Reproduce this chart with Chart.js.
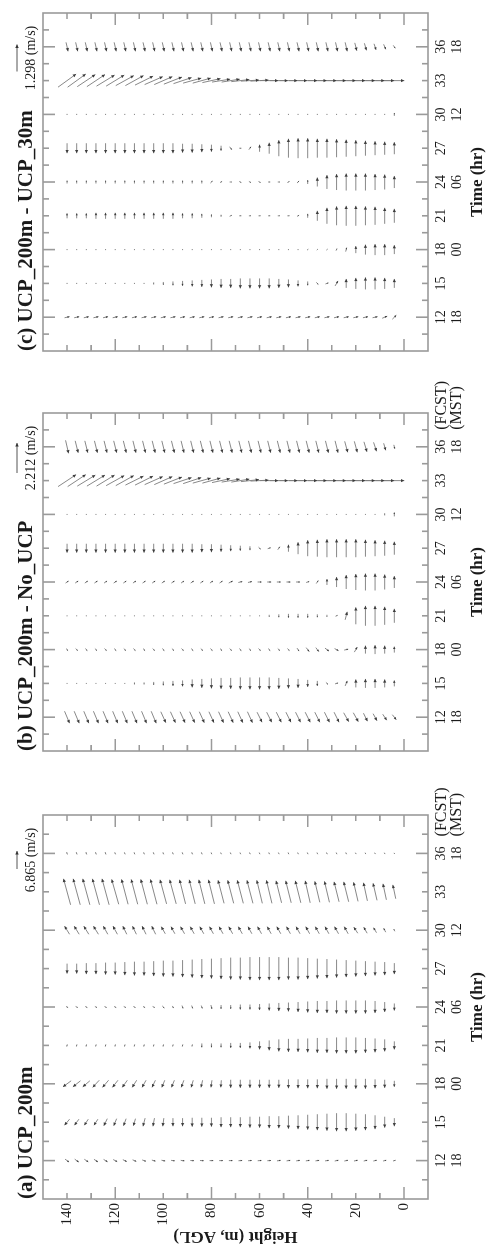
<!DOCTYPE html>
<html>
<head>
<meta charset="utf-8">
<script src="https://cdn.jsdelivr.net/npm/chart.js@4.4.1/dist/chart.umd.min.js"></script>
<style>
  html, body { margin: 0; padding: 0; background: #fff; overflow: hidden; }
  #fig { position: absolute; left: 0; top: 0; width: 1247px; height: 492px;
         transform-origin: 0 0; transform: translateY(1247px) rotate(-90deg); background: #fff; }
  #fig canvas { position: absolute; left: 0; top: 0; }
</style>
</head>
<body>
<div id="fig">
  <canvas id="chartA" width="1247" height="492"></canvas>
  <canvas id="chartB" width="1247" height="492"></canvas>
  <canvas id="chartC" width="1247" height="492"></canvas>
</div>
<script>
// ---- axes ----
const times = [12, 15, 18, 21, 24, 27, 30, 33, 36];
const mstLabels = ['18', '', '00', '', '06', '', '12', '', '18'];
const heights = [4, 8, 12, 16, 20, 24, 28, 32, 36, 40, 44, 48, 52, 56, 60, 64, 68, 72, 76, 80,
                 84, 88, 92, 96, 100, 104, 108, 112, 116, 120, 124, 128, 132, 136, 140];
const heightLabels = [0, 20, 40, 60, 80, 100, 120, 140];
const heightMarks = [0, 10, 20, 30, 40, 50, 60, 70, 80, 90, 100, 110, 120, 130, 140];
const heightMajor = [0, 40, 80, 120];
const timeMarks = [10.5, 12, 13.5, 15, 16.5, 18, 19.5, 21, 22.5, 24, 25.5, 27, 28.5, 30, 31.5, 33, 34.5, 36, 37.5];
const timeMajor = [12, 18, 24, 30, 36];

const titles = ['(a) UCP_200m', '(b) UCP_200m - No_UCP', '(c) UCP_200m - UCP_30m'];
const refSpeeds = [6.865, 2.212, 1.298];

// ---- (a) UCP_200m : u, v (m/s), heights 4..140 m ----
const uA12 = [0.3,0.3,0.3,0.3,0.3,0.3,0.3,0.2,0.2,0.2,0.2,0.2,0.2,0.1,0.1,0.1,0.1,0.0,0.0,0.0,-0.1,-0.1,-0.2,-0.2,-0.3,-0.4,-0.5,-0.6,-0.7,-0.8,-0.9,-1.0,-1.0,-1.1,-1.1];
const vA12 = [-1.0,-1.2,-1.3,-1.3,-1.4,-1.4,-1.4,-1.4,-1.4,-1.4,-1.4,-1.4,-1.4,-1.4,-1.4,-1.4,-1.4,-1.4,-1.4,-1.4,-1.4,-1.4,-1.4,-1.4,-1.4,-1.4,-1.4,-1.4,-1.5,-1.5,-1.5,-1.5,-1.5,-1.5,-1.5];
const uA15 = [-3.1,-4.2,-5.3,-6.1,-6.5,-6.9,-6.9,-6.5,-6.1,-5.7,-5.3,-5.0,-4.6,-4.6,-4.2,-4.2,-3.8,-3.8,-3.8,-3.4,-3.4,-3.4,-3.1,-3.1,-3.1,-3.1,-3.1,-2.7,-2.7,-2.7,-2.7,-2.3,-2.3,-2.3,-2.3];
const vA15 = [0,0,0,0,0,0,0,0,0,0,0,0,0,0,0,0,0,0,0,0,0,0,0,0,0.4,0.6,0.8,0.8,1.0,1.1,1.3,1.5,1.5,1.7,1.9];
const uA18 = [-2.3,-3.1,-3.4,-3.8,-3.8,-3.8,-3.8,-3.8,-3.4,-3.4,-3.4,-3.4,-3.1,-3.1,-3.1,-3.1,-3.1,-3.1,-2.7,-2.7,-2.7,-2.7,-2.7,-2.7,-2.7,-2.7,-2.7,-2.7,-2.7,-2.7,-2.7,-2.7,-2.3,-2.3,-2.3];
const vA18 = [0,0,0,0,0,0,0,0,0,0,0,0,0,0,0,0,0,0,0.2,0.4,0.6,0.8,1.0,1.1,1.1,1.3,1.5,1.7,1.9,2.1,2.3,2.5,2.7,2.9,3.1];
const uA21 = [-3.1,-4.6,-5.3,-5.7,-6.1,-6.1,-6.1,-5.7,-5.7,-5.3,-5.0,-5.0,-4.6,-3.8,-3.1,-2.3,-1.9,-1.9,-1.5,-1.5,-1.5,-0.8,-0.8,-0.8,-0.8,-0.8,-0.8,-0.8,-0.8,-0.8,-0.8,-0.8,-0.8,-0.8,-0.8];
const vA21 = [0,0,0,0,0,0,0,0,0,0,0,0,0,0,0,0,0,0,0,0,0,0.2,0.2,0.2,0.2,0.2,0.2,0.2,0.2,0.2,0.2,0.2,0.2,0.2,0.2];
const uA24 = [-2.7,-3.8,-4.6,-5.0,-5.0,-5.0,-5.0,-4.6,-4.6,-4.2,-3.8,-3.4,-3.1,-2.7,-2.3,-1.9,-1.9,-1.5,-1.5,-1.5,-1.1,-1.1,-1.1,-0.8,-0.8,-0.4,-0.4,-0.4,-0.4,-0.4,-0.4,-0.4,-0.4,-0.4,-0.4];
const vA24 = [0,0,0,0,0,0,0,0,0,0,0,0,0,0,0,0,0,0,0,-0.4,-0.4,-0.4,-0.4,-0.4,-0.8,-0.8,-0.8,-0.8,-0.8,-0.8,-0.8,-0.8,-0.8,-0.8,-0.8];
const uA27 = [-4.2,-5.0,-5.3,-5.7,-6.1,-6.5,-6.9,-7.3,-7.6,-8.0,-8.4,-8.4,-8.8,-8.8,-8.8,-8.8,-8.4,-8.4,-8.0,-7.6,-7.3,-6.9,-6.5,-6.1,-6.1,-5.7,-5.3,-5.3,-5.0,-4.6,-4.6,-4.2,-4.2,-3.8,-3.8];
const vA27 = [0,0,0,0,0,0,0,0,0,0,0,0,0,0,0,0,0,0,0,0,0,0,0,0,0,0,0,0,0,0,0,0,0,0,0];
const uA30 = [0.8,1.5,1.9,2.3,2.3,2.7,2.7,2.7,2.7,2.7,2.7,2.7,2.7,2.7,2.7,2.7,2.7,2.7,2.7,2.7,2.7,2.7,2.7,2.7,2.7,3.1,3.1,3.1,3.1,3.1,3.1,3.1,3.1,3.1,3.1];
const vA30 = [0.4,0.8,1.1,1.3,1.5,1.5,1.5,1.5,1.5,1.5,1.5,1.5,1.5,1.5,1.5,1.5,1.5,1.5,1.5,1.5,1.5,1.5,1.5,1.5,1.5,1.5,1.5,1.5,1.5,1.7,1.7,1.9,1.9,1.9,1.9];
const uA33 = [5.3,6.1,6.5,6.9,7.3,7.6,7.6,8.0,8.0,8.4,8.4,8.4,8.4,8.8,8.8,8.8,8.8,8.8,8.8,9.2,9.2,9.2,9.2,9.2,9.2,9.5,9.5,9.5,9.5,9.5,9.9,9.9,9.9,9.9,9.9];
const vA33 = [1.1,1.3,1.5,1.5,1.7,1.9,1.9,1.9,1.9,1.9,2.1,2.1,2.1,2.1,2.1,2.3,2.3,2.3,2.3,2.3,2.3,2.3,2.3,2.5,2.5,2.5,2.5,2.5,2.5,2.7,2.7,2.7,2.7,2.7,2.7];
const uA36 = [0.4,0.5,0.5,0.5,0.5,0.6,0.6,0.6,0.6,0.6,0.6,0.6,0.6,0.6,0.6,0.6,0.6,0.6,0.6,0.6,0.7,0.7,0.7,0.7,0.7,0.7,0.7,0.7,0.7,0.7,0.8,0.8,0.8,0.8,0.8];
const vA36 = [0.3,0.3,0.3,0.3,0.3,0.3,0.3,0.3,0.3,0.3,0.3,0.3,0.3,0.3,0.3,0.3,0.3,0.3,0.3,0.3,0.3,0.3,0.3,0.3,0.3,0.3,0.3,0.3,0.3,0.3,0.3,0.3,0.3,0.3,0.3];

// ---- (b) UCP_200m - No_UCP ----
const uB12 = [-0.37,-0.44,-0.52,-0.59,-0.66,-0.66,-0.74,-0.74,-0.74,-0.74,-0.74,-0.74,-0.74,-0.74,-0.74,-0.81,-0.81,-0.81,-0.81,-0.81,-0.81,-0.81,-0.81,-0.81,-0.81,-0.88,-0.88,-0.88,-0.88,-0.88,-0.88,-0.88,-0.88,-0.88,-0.88];
const vB12 = [-0.29,-0.29,-0.29,-0.29,-0.37,-0.37,-0.37,-0.37,-0.37,-0.37,-0.37,-0.37,-0.37,-0.37,-0.37,-0.37,-0.37,-0.37,-0.37,-0.37,-0.37,-0.37,-0.37,-0.37,-0.37,-0.37,-0.37,-0.37,-0.37,-0.37,-0.37,-0.37,-0.37,-0.37,-0.37];
const uB15 = [0.44,0.59,0.66,0.66,0.59,0.37,0.07,-0.15,-0.37,-0.52,-0.66,-0.74,-0.81,-0.88,-0.88,-0.88,-0.88,-0.81,-0.81,-0.74,-0.66,-0.59,-0.44,-0.37,-0.29,-0.22,-0.15,-0.15,-0.07,-0.07,-0.07,-0.07,-0.07,-0.07,-0.07];
const vB15 = [0,0,0,0,0,-0.15,-0.22,-0.15,0,0,0,0,0,0,0,0,0,0,0,0,0,0,0,0,0,0,0,0,0,0,0,0,0,0,0];
const uB18 = [0.44,0.59,0.66,0.59,0.37,0.07,-0.15,-0.22,-0.29,-0.29,-0.22,-0.15,-0.15,-0.15,-0.15,-0.15,-0.15,-0.15,-0.15,-0.15,-0.15,-0.15,-0.15,-0.15,-0.15,-0.15,-0.15,-0.15,-0.15,-0.15,-0.15,-0.15,-0.15,-0.15,-0.15];
const vB18 = [0,0,0,0,-0.22,-0.29,-0.29,-0.29,-0.22,-0.22,-0.15,-0.15,-0.15,-0.15,-0.15,-0.15,-0.15,-0.15,-0.15,-0.15,-0.15,-0.15,-0.15,-0.15,-0.15,-0.15,-0.15,-0.15,-0.15,-0.15,-0.15,-0.15,-0.15,-0.15,-0.15];
const uB21 = [1.03,1.33,1.47,1.47,1.25,0.59,0.07,-0.15,-0.22,-0.29,-0.29,-0.29,-0.22,-0.15,-0.07,-0.07,-0.07,-0.07,-0.07,-0.07,-0.07,-0.07,-0.07,-0.07,-0.07,-0.07,-0.07,-0.07,-0.07,-0.07,-0.07,-0.07,-0.07,-0.07,-0.07];
const vB21 = [0,0,0,0,0,-0.15,-0.15,0,0,0,0,0,0,0,0,0,0,0,0,0,0,0,0,0,0,0,0,0,0,0,0,0,0,0,0];
const uB24 = [0.88,1.11,1.25,1.25,1.18,1.03,0.74,0.44,0.22,0.07,0,0,0,0,0,0.07,0.07,0.15,0.15,0.15,0.15,0.15,0.15,0.15,0.15,0.15,0.15,0.15,0.15,0.15,0.15,0.15,0.15,0.15,0.15];
const vB24 = [0,0,0,0,0,0,0,0,-0.15,-0.22,-0.29,-0.29,-0.29,-0.29,-0.29,-0.29,-0.29,-0.29,-0.22,-0.22,-0.22,-0.22,-0.22,-0.22,-0.22,-0.22,-0.22,-0.22,-0.22,-0.22,-0.22,-0.22,-0.22,-0.22,-0.22];
const uB27 = [0.96,1.11,1.18,1.25,1.33,1.33,1.33,1.33,1.25,1.18,0.88,0.52,0.22,0.07,-0.15,-0.29,-0.37,-0.44,-0.52,-0.59,-0.59,-0.66,-0.66,-0.66,-0.66,-0.66,-0.66,-0.66,-0.66,-0.66,-0.66,-0.66,-0.66,-0.66,-0.66];
const vB27 = [0,0,0,0,0,0,0,0,0,0,0,0,-0.15,-0.22,-0.15,0,0,0,0,0,0,0,0,0,0,0,0,0,0,0,0,0,0,0,0];
const uB30 = [0.29,0.15,0.07,0.07,0.07,0.07,0.07,0.07,0.07,0.07,0.07,0.07,0.07,0.07,0.07,0.07,0.07,0.07,0.07,0.07,0.07,0.07,0.07,0.07,0.07,0.07,0.07,0.07,0.07,0.07,0.07,0.07,0.07,0.07,0.07];
const vB30 = [0,0,0,0,0,0,0,0,0,0,0,0,0,0,0,0,0,0,0,0,0,0,0,0,0,0,0,0,0,0,0,0,0,0,0];
const uB33 = [0,0,0,0,0,0,0,0,0,0,0,0,0,0,0.07,0.15,0.22,0.22,0.29,0.37,0.37,0.44,0.44,0.52,0.59,0.59,0.66,0.66,0.74,0.74,0.81,0.81,0.81,0.88,0.88];
const vB33 = [-1.47,-1.40,-1.40,-1.40,-1.40,-1.40,-1.40,-1.40,-1.40,-1.40,-1.33,-1.33,-1.33,-1.33,-1.33,-1.33,-1.33,-1.33,-1.33,-1.33,-1.33,-1.33,-1.33,-1.33,-1.33,-1.33,-1.33,-1.33,-1.33,-1.33,-1.33,-1.33,-1.33,-1.33,-1.33];
const uB36 = [-0.29,-0.52,-0.66,-0.74,-0.81,-0.81,-0.88,-0.88,-0.88,-0.88,-0.88,-0.88,-0.88,-0.88,-0.88,-0.88,-0.88,-0.88,-0.88,-0.88,-0.88,-0.88,-0.88,-0.88,-0.88,-0.88,-0.88,-0.88,-0.88,-0.88,-0.88,-0.88,-0.88,-0.88,-0.96];
const vB36 = [-0.07,-0.15,-0.22,-0.22,-0.22,-0.22,-0.22,-0.22,-0.22,-0.22,-0.22,-0.22,-0.22,-0.22,-0.22,-0.22,-0.22,-0.22,-0.22,-0.22,-0.22,-0.22,-0.22,-0.22,-0.22,-0.22,-0.22,-0.22,-0.22,-0.22,-0.22,-0.22,-0.22,-0.22,-0.22];

// ---- (c) UCP_200m - UCP_30m ----
const uC12 = [0.19,0.10,0.05,0.05,0.05,0.05,0.05,0.05,0.05,0.05,0.05,0.05,0.05,0.05,0.05,0.05,0.05,0.05,0.05,0.05,0.05,0.05,0.05,0.05,0.05,0.05,0.05,0.05,0.05,0.05,0.05,0.05,0.05,0.05,0.05];
const vC12 = [-0.19,-0.24,-0.24,-0.24,-0.24,-0.24,-0.24,-0.24,-0.24,-0.24,-0.24,-0.24,-0.24,-0.24,-0.24,-0.24,-0.24,-0.24,-0.24,-0.24,-0.24,-0.24,-0.24,-0.24,-0.24,-0.24,-0.24,-0.24,-0.24,-0.24,-0.24,-0.24,-0.24,-0.24,-0.24];
const uC15 = [0.43,0.53,0.58,0.58,0.53,0.43,0.24,0.05,-0.10,-0.19,-0.29,-0.38,-0.43,-0.48,-0.48,-0.48,-0.48,-0.43,-0.43,-0.38,-0.34,-0.29,-0.24,-0.19,-0.14,-0.10,-0.05,-0.05,-0.05,-0.05,-0.05,-0.05,-0.05,-0.05,-0.05];
const vC15 = [0,0,0,0,0,0,-0.14,-0.14,-0.10,0,0,0,0,0,0,0,0,0,0,0,0,0,0,0,0,0,0,0,0,0,0,0,0,0,0];
const uC18 = [0.43,0.53,0.53,0.48,0.34,0.19,0.10,0.05,0.05,0.05,0.05,0.05,0.05,0.05,0.05,0.05,0.05,0.05,0.05,0.05,0.05,0.05,0.05,0.05,0.05,0.05,0.05,0.05,0.05,0.05,0.05,0.05,0.05,0.05,0.05];
const vC18 = [0,0,0,0,0,-0.05,-0.05,-0.05,-0.05,-0.05,0,0,0,0,0,0,0,0,0,0,0,0,0,0,0,0,0,0,0,0,0,0,0,0,0];
const uC21 = [0.67,0.77,0.87,0.91,0.96,0.96,0.91,0.77,0.48,0.19,0.05,0,0,0,0,0,0,0.05,0.10,0.14,0.19,0.24,0.24,0.29,0.29,0.29,0.29,0.29,0.29,0.29,0.29,0.29,0.24,0.24,0.24];
const vC21 = [0,0,0,0,0,0,0,0,0,0,-0.10,-0.10,-0.10,-0.10,-0.10,-0.10,-0.10,-0.10,0,0,0,0,0,0,0,0,0,0,0,0,0,0,0,0,0];
const uC24 = [0.58,0.72,0.77,0.82,0.82,0.82,0.77,0.67,0.43,0.19,0.10,0.05,0,0,-0.05,-0.05,-0.05,0,0.05,0.10,0.14,0.14,0.14,0.14,0.14,0.14,0.14,0.14,0.14,0.14,0.14,0.14,0.14,0.14,0.14];
const vC24 = [0,0,0,0,0,0,0,0,0,0,-0.10,-0.10,-0.10,-0.10,-0.10,-0.10,-0.10,-0.10,-0.10,-0.10,0,0,0,0,0,0,0,0,0,0,0,0,0,0,0];
const uC27 = [0.58,0.63,0.67,0.72,0.77,0.82,0.87,0.91,0.91,0.96,0.96,0.91,0.77,0.53,0.34,0.14,0,-0.14,-0.24,-0.34,-0.38,-0.43,-0.43,-0.48,-0.48,-0.48,-0.48,-0.48,-0.48,-0.48,-0.48,-0.48,-0.48,-0.48,-0.48];
const vC27 = [0,0,0,0,0,0,0,0,0,0,0,0,0,0,0,-0.10,-0.10,-0.10,0,0,0,0,0,0,0,0,0,0,0,0,0,0,0,0,0];
const uC30 = [0.14,0.05,0.05,0.05,0.05,0.05,0.05,0.05,0.05,0.05,0.05,0.05,0.05,0.05,0.05,0.05,0.05,0.05,0.05,0.05,0.05,0.05,0.05,0.05,0.05,0.05,0.05,0.05,0.05,0.05,0.05,0.05,0.05,0.05,0.05];
const vC30 = [0,0,0,0,0,0,0,0,0,0,0,0,0,0,0,0,0,0,0,0,0,0,0,0,0,0,0,0,0,0,0,0,0,0,0];
const uC33 = [0,0,0,0,0,0,0,0,0,0,0,0,0,0,0.05,0.05,0.10,0.14,0.14,0.19,0.24,0.24,0.29,0.34,0.38,0.38,0.43,0.48,0.48,0.53,0.53,0.58,0.58,0.63,0.63];
const vC33 = [-0.96,-0.91,-0.91,-0.91,-0.91,-0.91,-0.91,-0.91,-0.91,-0.91,-0.87,-0.87,-0.87,-0.87,-0.87,-0.87,-0.87,-0.87,-0.87,-0.87,-0.87,-0.87,-0.87,-0.87,-0.87,-0.87,-0.87,-0.87,-0.87,-0.87,-0.87,-0.87,-0.87,-0.87,-0.87];
const uC36 = [-0.14,-0.24,-0.29,-0.34,-0.38,-0.43,-0.43,-0.43,-0.43,-0.43,-0.43,-0.43,-0.43,-0.43,-0.43,-0.43,-0.43,-0.43,-0.43,-0.43,-0.43,-0.43,-0.43,-0.43,-0.43,-0.43,-0.43,-0.43,-0.43,-0.43,-0.43,-0.43,-0.43,-0.43,-0.43];
const vC36 = [-0.10,-0.10,-0.10,-0.10,-0.10,-0.10,-0.10,-0.10,-0.10,-0.10,-0.10,-0.10,-0.10,-0.10,-0.10,-0.10,-0.10,-0.10,-0.10,-0.10,-0.10,-0.10,-0.10,-0.10,-0.10,-0.10,-0.10,-0.10,-0.10,-0.10,-0.10,-0.10,-0.10,-0.10,-0.10];

const FONT = '"Liberation Serif", "DejaVu Serif", serif';
const TEXT = '#1a1a1a';
const FRAME = '#9a9a9a';

// arrow centred on its grid point, like a quiver with pivot "middle"
function drawArrow(ctx, x, y, dx, dy, headMax) {
  const len = Math.hypot(dx, dy);
  if (len < 0.3) return;
  const x1 = x + dx / 2, y1 = y + dy / 2;
  ctx.beginPath();
  ctx.moveTo(x - dx / 2, y - dy / 2);
  ctx.lineTo(x1, y1);
  ctx.stroke();
  const hl = Math.min(headMax, len * 0.4), hw = hl * 0.5;
  const ux = dx / len, uy = dy / len;
  ctx.beginPath();
  ctx.moveTo(x1, y1);
  ctx.lineTo(x1 - ux * hl - uy * hw, y1 - uy * hl + ux * hw);
  ctx.lineTo(x1 - ux * hl + uy * hw, y1 - uy * hl - ux * hw);
  ctx.closePath();
  ctx.fill();
}

const panelDeco = {
  id: 'panelDeco',
  afterDatasetsDraw(chart, args, o) {
    const ctx = chart.ctx;
    const k = o.refLen / o.refSpeed;
    const raw = chart.data.datasets[0].data;
    ctx.save();
    ctx.strokeStyle = '#7a7a7a';
    ctx.fillStyle = '#3c3c3c';
    ctx.lineWidth = 0.9;
    chart.getDatasetMeta(0).data.forEach((p, i) => {
      drawArrow(ctx, p.x, p.y, raw[i].u * k, -raw[i].v * k, 3.2);
    });
    ctx.restore();
  },
  afterDraw(chart, args, o) {
    const {ctx, chartArea: a, scales: {x, y}} = chart;
    ctx.save();
    // frame + inward ticks
    ctx.strokeStyle = FRAME;
    ctx.lineWidth = 1.6;
    ctx.strokeRect(a.left, a.top, a.right - a.left, a.bottom - a.top);
    ctx.beginPath();
    timeMarks.forEach(t => {
      const px = x.getPixelForValue(t);
      const L = timeMajor.includes(t) ? 12 : 6;
      ctx.moveTo(px, a.bottom); ctx.lineTo(px, a.bottom - L);
      ctx.moveTo(px, a.top); ctx.lineTo(px, a.top + L);
    });
    heightMarks.forEach(h => {
      const py = y.getPixelForValue(h);
      const L = heightMajor.includes(h) ? 12 : 6;
      ctx.moveTo(a.left, py); ctx.lineTo(a.left + L, py);
      ctx.moveTo(a.right, py); ctx.lineTo(a.right - L, py);
    });
    ctx.stroke();

    // panel title
    ctx.fillStyle = TEXT;
    ctx.font = 'bold 21px ' + FONT;
    ctx.textAlign = 'left';
    ctx.textBaseline = 'alphabetic';
    ctx.fillText(o.title, a.left, 32);

    // reference vector
    const cx = a.right - 45;
    ctx.strokeStyle = '#555';
    ctx.fillStyle = '#333';
    ctx.lineWidth = 1;
    drawArrow(ctx, cx, 17, o.refLen, 0, 3.5);
    ctx.fillStyle = TEXT;
    ctx.font = '14px ' + FONT;
    ctx.textAlign = 'center';
    ctx.textBaseline = 'middle';
    ctx.fillText(o.refSpeed.toFixed(3) + ' (m/s)', cx, 31);

    // clock labels after the last tick
    if (o.suffix) {
      const px = x.getPixelForValue(36) + 17;
      const lh = 14 * 1.1;
      ctx.font = '16px ' + FONT;
      ctx.textAlign = 'left';
      ctx.fillText('(FCST)', px, x.top + 6 + lh / 2);
      ctx.fillText('(MST)', px, x.top + 6 + lh * 1.5);
    }
    ctx.restore();
  }
};

function makeChart(id, idx, uCols, vCols, padLeft, padRight, refLen, showY, suffix) {
  const points = [];
  times.forEach((t, j) => {
    heights.forEach((h, i) => {
      points.push({x: t, y: h, u: uCols[j][i], v: vCols[j][i]});
    });
  });
  return new Chart(document.getElementById(id), {
    type: 'scatter',
    data: { datasets: [{ data: points, pointRadius: 0, pointHoverRadius: 0 }] },
    options: {
      responsive: false,
      animation: false,
      devicePixelRatio: 1,
      events: [],
      layout: { padding: { left: padLeft, right: padRight, top: 43, bottom: 0 } },
      plugins: {
        legend: { display: false },
        tooltip: { enabled: false },
        panelDeco: { title: titles[idx], refSpeed: refSpeeds[idx], refLen: refLen, suffix: suffix }
      },
      scales: {
        x: {
          type: 'linear', position: 'bottom', min: 9, max: 39,
          afterBuildTicks: s => { s.ticks = times.map(v => ({ value: v })); },
          afterFit: s => { s.height = 64; },
          grid: { display: false, drawTicks: false },
          border: { display: false },
          ticks: {
            padding: 6, maxRotation: 0, autoSkip: false, color: TEXT,
            font: { family: FONT, size: 14, lineHeight: 1.1 },
            callback: (v, i) => [String(v), mstLabels[i]]
          },
          title: {
            display: true, text: 'Time (hr)', color: TEXT,
            font: { family: FONT, size: 17, weight: 'bold' },
            padding: { top: 0, bottom: 4 }
          }
        },
        y: {
          type: 'linear', min: -10, max: 150, display: showY,
          afterBuildTicks: s => { s.ticks = heightLabels.map(v => ({ value: v })); },
          afterFit: s => { s.width = 48; },
          grid: { display: false, drawTicks: false },
          border: { display: false },
          ticks: { padding: 4, color: TEXT, font: { family: FONT, size: 15 } },
          title: {
            display: true, text: 'Height (m, AGL)', color: TEXT,
            font: { family: FONT, size: 17, weight: 'bold' },
            padding: { top: 0, bottom: 0 }
          }
        }
      }
    },
    plugins: [panelDeco]
  });
}

makeChart('chartA', 0,
  [uA12, uA15, uA18, uA21, uA24, uA27, uA30, uA33, uA36],
  [vA12, vA15, vA18, vA21, vA24, vA27, vA30, vA33, vA36],
  0, 815, 18, true, true);
makeChart('chartB', 1,
  [uB12, uB15, uB18, uB21, uB24, uB27, uB30, uB33, uB36],
  [vB12, vB15, vB18, vB21, vB24, vB27, vB30, vB33, vB36],
  448, 413, 30, false, true);
makeChart('chartC', 2,
  [uC12, uC15, uC18, uC21, uC24, uC27, uC30, uC33, uC36],
  [vC12, vC15, vC18, vC21, vC24, vC27, vC30, vC33, vC36],
  848, 13, 27, false, false);
</script>
</body>
</html>
